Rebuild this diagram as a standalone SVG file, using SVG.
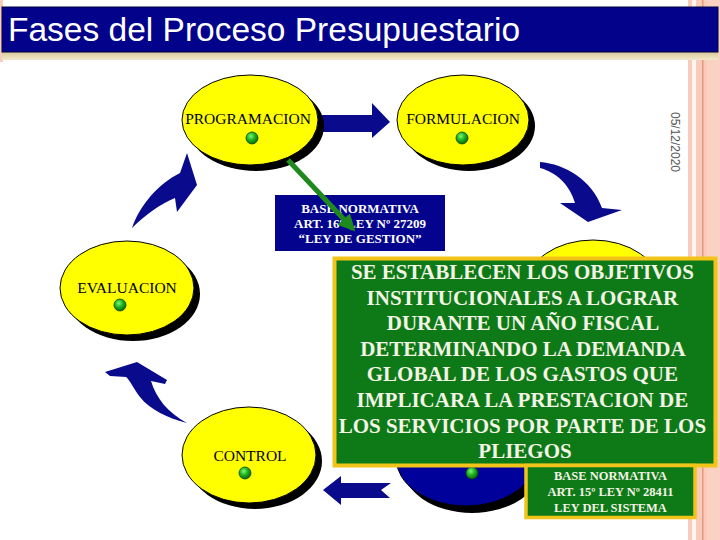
<svg xmlns="http://www.w3.org/2000/svg" width="720" height="540" viewBox="0 0 720 540">
<defs>
<radialGradient id="gd" cx="0.4" cy="0.35" r="0.7">
<stop offset="0" stop-color="#7CFC7C"/>
<stop offset="0.45" stop-color="#22B522"/>
<stop offset="1" stop-color="#056005"/>
</radialGradient>
<linearGradient id="beige" x1="0" y1="0" x2="0" y2="1">
<stop offset="0" stop-color="#D9C898"/>
<stop offset="1" stop-color="#F2E9CC"/>
</linearGradient>
<marker id="gh" viewBox="0 0 10 10" refX="8" refY="5" markerWidth="3.4" markerHeight="3.4" orient="auto" markerUnits="strokeWidth">
<path d="M0,0 L10,5 L0,10 Z" fill="#1E8A1E"/>
</marker>
<style>
.ell{fill:#FFFF00;stroke:#000;stroke-width:1}
.shd{fill:#000}
.lbl{font-family:"Liberation Serif","Times New Roman",serif;font-size:15.5px;fill:#000;text-anchor:middle}
.arr{fill:#0A0A8C}
.dot{fill:url(#gd);stroke:#0A4A0A;stroke-width:0.8}
.bt{font-family:"Liberation Serif","Times New Roman",serif;font-weight:bold;text-anchor:middle}
</style>
</defs>
<rect width="720" height="540" fill="#fff"/>
<rect x="688" y="0" width="32" height="540" fill="#F9CBBB"/>
<rect x="692" y="0" width="4" height="540" fill="#FFF6F2"/>
<rect x="702" y="0" width="1.5" height="540" fill="#E49A7C"/>
<rect x="707" y="0" width="13" height="540" fill="#FAD2C4"/>
<rect x="0" y="0" width="3" height="62" fill="#F9CBBB"/>
<g id="title">
<rect x="2" y="52" width="716" height="8" fill="url(#beige)"/>
<rect x="461" y="44" width="3" height="8" fill="#000"/>
<rect x="2" y="7" width="716" height="45" fill="#02028A" stroke="#000040" stroke-width="1"/>
<text x="8" y="41" font-family="'Liberation Sans',Arial,sans-serif" font-size="33.5" fill="#fff">Fases del Proceso Presupuestario</text>
</g>
<text transform="translate(671,142) rotate(90)" font-family="'Liberation Sans',Arial,sans-serif" font-size="12" fill="#555" text-anchor="middle">05/12/2020</text>

<g id="connectors">
<path class="arr" d="M318,115 L372,115 L372,103 L390,122 L372,138 L372,132 L318,132 Z"/>
<path class="arr" d="M540,162 C565,164 592,180 602,208 L622,210 L588,222 L560,203 L575,203 C570,185 556,172 540,168 Z"/>
<path class="arr" d="M323,490 L341,476 L341,483 L391,483 L381,490 L390,498 L341,498 L341,505 Z"/>
<path class="arr" d="M105,372 L137,362 L167,380 L165,384 L151,381 C156,398 168,413 187,423 C168,418 150,410 140,397 C133,388 130,380 126,377 L110,376 Z"/>
<path class="arr" d="M132,228 C140,205 158,184 180,173 L187,153 L197,185 L177,212 L175,198 C160,204 145,215 132,228 Z"/>
</g>

<g id="programacion">
<ellipse class="shd" cx="256" cy="126" rx="68" ry="45"/>
<ellipse class="ell" cx="250" cy="120" rx="68" ry="45"/>
<text class="lbl" x="248" y="124">PROGRAMACION</text>
<circle class="dot" cx="252" cy="138" r="6"/>
</g>
<g id="formulacion">
<ellipse class="shd" cx="469" cy="126" rx="66" ry="45"/>
<ellipse class="ell" cx="463" cy="120" rx="66" ry="45"/>
<text class="lbl" x="463" y="124">FORMULACION</text>
<circle class="dot" cx="462" cy="138" r="6"/>
</g>
<g id="evaluacion">
<ellipse class="shd" cx="133" cy="294" rx="67" ry="47"/>
<ellipse class="ell" cx="127" cy="288" rx="67" ry="47"/>
<text class="lbl" x="127" y="293">EVALUACION</text>
<circle class="dot" cx="120" cy="305" r="6"/>
</g>
<g id="control">
<ellipse class="shd" cx="255" cy="461" rx="67" ry="48"/>
<ellipse class="ell" cx="249" cy="455" rx="67" ry="48"/>
<text class="lbl" x="250" y="461">CONTROL</text>
<circle class="dot" cx="245" cy="473" r="6"/>
</g>
<g id="aprobacion">
<ellipse class="shd" cx="599" cy="293" rx="67" ry="47"/>
<ellipse class="ell" cx="593" cy="287" rx="67" ry="47"/>
</g>
<g id="ejecucion">
<ellipse class="shd" cx="472" cy="465" rx="70" ry="48"/>
<ellipse cx="466" cy="458" rx="70" ry="48" fill="#00009A" stroke="#000" stroke-width="1"/>
<circle class="dot" cx="472" cy="473" r="6"/>
</g>

<g id="base-normativa-1">
<rect x="275" y="195" width="170" height="56" fill="#03038E"/>
<text class="bt" font-size="13" fill="#fff"><tspan x="360" y="213">BASE NORMATIVA</tspan><tspan x="360" y="228">ART. 16º LEY Nº 27209</tspan><tspan x="360" y="243">“LEY DE GESTION”</tspan></text>
</g>
<g id="green-arrow">
<line x1="288" y1="160" x2="353" y2="229" stroke="#1E8A1E" stroke-width="5" marker-end="url(#gh)"/>
</g>

<g id="descripcion">
<rect x="334.5" y="258.5" width="381" height="207" fill="#0E7A17" stroke="#F2C318" stroke-width="4"/>
<text class="bt" font-size="21" fill="#F3F3E6">
<tspan x="525" y="279">SE ESTABLECEN LOS OBJETIVOS</tspan>
<tspan x="525" y="304.6">INSTITUCIONALES A LOGRAR</tspan>
<tspan x="525" y="330.2">DURANTE UN AÑO FISCAL</tspan>
<tspan x="525" y="355.8">DETERMINANDO LA DEMANDA</tspan>
<tspan x="525" y="381.4">GLOBAL DE LOS GASTOS QUE</tspan>
<tspan x="525" y="407">IMPLICARA LA PRESTACION DE</tspan>
<tspan x="525" y="432.6">LOS SERVICIOS POR PARTE DE LOS</tspan>
<tspan x="525" y="458.2">PLIEGOS</tspan>
</text>
</g>
<g id="base-normativa-2">
<rect x="526" y="465.5" width="169" height="52" fill="#0E7A17" stroke="#F2C318" stroke-width="3.5"/>
<text class="bt" font-size="12.5" fill="#F3F3E6"><tspan x="610.5" y="480">BASE NORMATIVA</tspan><tspan x="610.5" y="496">ART. 15º LEY Nº 28411</tspan><tspan x="610.5" y="512">LEY DEL SISTEMA</tspan></text>
</g>
</svg>
